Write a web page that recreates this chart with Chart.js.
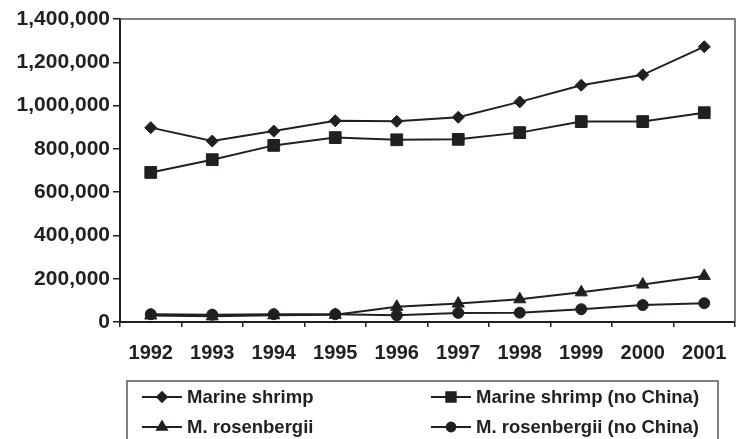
<!DOCTYPE html>
<html>
<head>
<meta charset="utf-8">
<script src="https://cdn.jsdelivr.net/npm/chart.js@4.4.1/dist/chart.umd.min.js"></script>
<style>
  html, body { margin: 0; padding: 0; background: #fff; }
  #wrap { width: 736px; height: 439px; }
</style>
</head>
<body>
<div id="wrap"><canvas id="shrimpChart" width="736" height="439"></canvas></div>
<script>
// Data
const years = ['1992', '1993', '1994', '1995', '1996', '1997', '1998', '1999', '2000', '2001'];
const marineShrimp = [898000, 836000, 882000, 930000, 927000, 946000, 1017000, 1094000, 1142000, 1272000];
const marineShrimpNoChina = [691000, 750000, 816000, 852000, 842000, 844000, 875000, 926000, 926000, 967000];
const rosenbergii = [30000, 26000, 31000, 33000, 70000, 85000, 105000, 137000, 173000, 213000];
const rosenbergiiNoChina = [36000, 34000, 36000, 36000, 31000, 42000, 43000, 59000, 78000, 87000];
const yTicks = [0, 200000, 400000, 600000, 800000, 1000000, 1200000, 1400000];

const ink = '#231f20';
const fontFamily = '"Liberation Sans", Arial, sans-serif';

// Plot frame (top and right edges) plus the two column legend below the chart
const frameAndLegend = {
    id: 'frameAndLegend',
    afterDraw(chart) {
        const ctx = chart.ctx;
        const area = chart.chartArea;
        ctx.save();
        ctx.strokeStyle = '#555';
        ctx.lineWidth = 1.5;
        ctx.beginPath();
        ctx.moveTo(area.left, area.top);
        ctx.lineTo(area.right, area.top);
        ctx.lineTo(area.right, area.bottom);
        ctx.stroke();

        // legend box
        ctx.strokeStyle = '#555';
        ctx.lineWidth = 1.5;
        ctx.strokeRect(127, 381, 591, 70);

        const cols = [142, 431];
        const rows = [397, 427];
        // order: Marine shrimp, (no China) / M. rosenbergii, (no China)
        const order = [[0, 0, 0], [1, 1, 0], [2, 0, 1], [3, 1, 1]];
        ctx.font = 'bold 18.5px ' + fontFamily;
        ctx.textBaseline = 'middle';
        order.forEach(function (o) {
            const ds = chart.data.datasets[o[0]];
            const x = cols[o[1]];
            const y = rows[o[2]];
            ctx.strokeStyle = ink;
            ctx.lineWidth = 2;
            ctx.beginPath();
            ctx.moveTo(x, y);
            ctx.lineTo(x + 40, y);
            ctx.stroke();
            ctx.fillStyle = ink;
            Chart.helpers.drawPoint(ctx, {
                pointStyle: ds.pointStyle,
                radius: ds.pointRadius * 0.8,
                borderWidth: 1
            }, x + 20, y);
            ctx.fillStyle = ink;
            ctx.fillText(ds.label, x + 45, y + 1);
        });
        ctx.restore();
    }
};

const ctx = document.getElementById('shrimpChart').getContext('2d');
const shrimpChart = new Chart(ctx, {
    type: 'line',
    data: {
        labels: years,
        datasets: [
            {
                label: 'Marine shrimp',
                data: marineShrimp,
                pointStyle: 'rectRot',
                pointRadius: 6
            },
            {
                label: 'Marine shrimp (no China)',
                data: marineShrimpNoChina,
                pointStyle: 'rect',
                pointRadius: 8.3
            },
            {
                label: 'M. rosenbergii',
                data: rosenbergii,
                pointStyle: 'triangle',
                pointRadius: 7
            },
            {
                label: 'M. rosenbergii (no China)',
                data: rosenbergiiNoChina,
                pointStyle: 'circle',
                pointRadius: 5.5
            }
        ].map(function (ds) {
            return Object.assign({
                borderColor: ink,
                backgroundColor: ink,
                pointBackgroundColor: ink,
                pointBorderColor: ink,
                pointBorderWidth: 1,
                borderWidth: 2,
                tension: 0,
                fill: false
            }, ds);
        })
    },
    options: {
        responsive: false,
        animation: false,
        layout: {
            autoPadding: false,
            padding: { left: 0, right: 1, top: 19, bottom: 60 }
        },
        plugins: {
            legend: { display: false },
            tooltip: { enabled: false }
        },
        scales: {
            x: {
                offset: true,
                grid: {
                    offset: true,
                    drawOnChartArea: false,
                    drawTicks: true,
                    tickLength: 5,
                    color: ink,
                    lineWidth: 1.5
                },
                border: { color: ink, width: 2 },
                afterFit: function (axis) {
                    // labels sit inside their categories, no side overflow
                    axis.paddingLeft = 0;
                    axis.paddingRight = 0;
                },
                ticks: {
                    color: ink,
                    padding: 14,
                    maxRotation: 0,
                    font: { family: fontFamily, size: 20, weight: 'bold' }
                }
            },
            y: {
                min: 0,
                max: 1400000,
                afterBuildTicks: function (axis) {
                    axis.ticks = yTicks.map(function (v) { return { value: v }; });
                },
                afterFit: function (axis) {
                    axis.width = 120;
                },
                grid: {
                    drawOnChartArea: false,
                    drawTicks: true,
                    tickLength: 7,
                    color: ink,
                    lineWidth: 1.5
                },
                border: { color: ink, width: 2 },
                ticks: {
                    color: ink,
                    padding: 3,
                    font: { family: fontFamily, size: 21, weight: 'bold' },
                    callback: function (v) { return v.toLocaleString('en-US'); }
                }
            }
        }
    },
    plugins: [frameAndLegend]
});
</script>
</body>
</html>
